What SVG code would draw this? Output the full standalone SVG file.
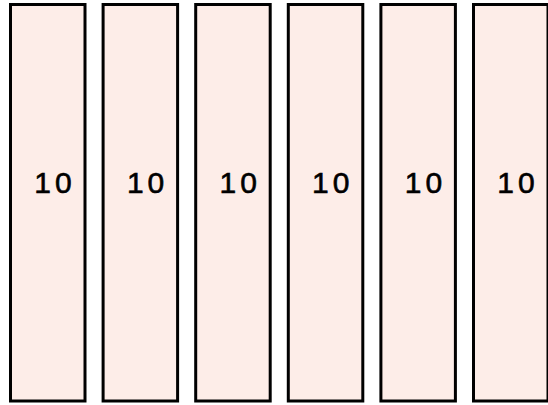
<svg xmlns="http://www.w3.org/2000/svg" width="548" height="405" viewBox="0 0 548 405">
<style>
.box{fill:#fdede8;stroke:#000;stroke-width:3}
.lbl{font-family:"Liberation Sans",Arial,sans-serif;font-size:30px;fill:#000;stroke:#000;stroke-width:0.6;text-anchor:middle;letter-spacing:4px}
</style>
<rect width="548" height="405" fill="#fff"/>
<g id="n1"><rect class="box" x="10.5" y="4.5" width="74.5" height="396.5"/><text class="lbl" x="55" y="193">10</text></g>
<g id="n2"><rect class="box" x="103.1" y="4.5" width="74.5" height="396.5"/><text class="lbl" x="147.6" y="193">10</text></g>
<g id="n3"><rect class="box" x="195.7" y="4.5" width="74.5" height="396.5"/><text class="lbl" x="240.2" y="193">10</text></g>
<g id="n4"><rect class="box" x="288.3" y="4.5" width="74.5" height="396.5"/><text class="lbl" x="332.8" y="193">10</text></g>
<g id="n5"><rect class="box" x="380.9" y="4.5" width="74.5" height="396.5"/><text class="lbl" x="425.4" y="193">10</text></g>
<g id="n6"><rect class="box" x="473.5" y="4.5" width="74.5" height="396.5"/><text class="lbl" x="518" y="193">10</text></g>
<g id="connectors"></g>
</svg>
